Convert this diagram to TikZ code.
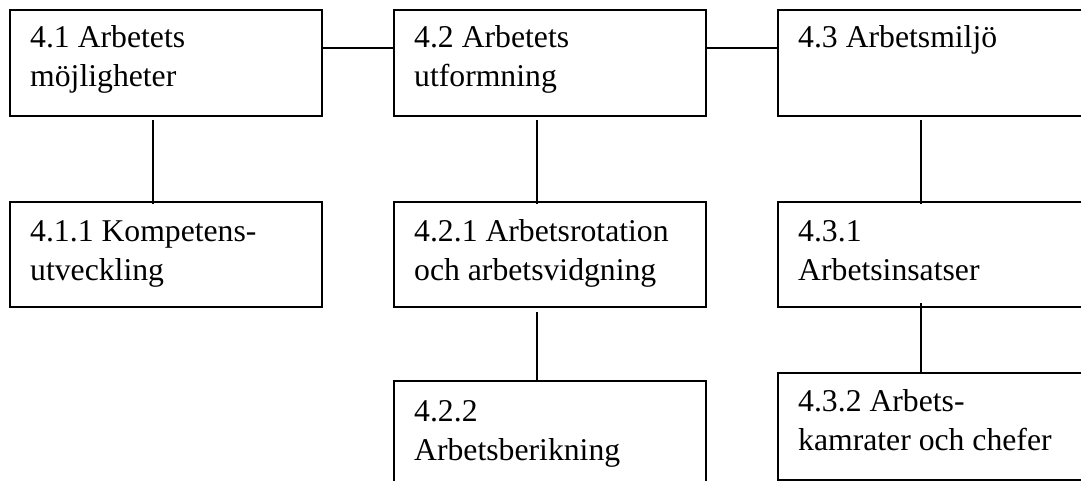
\documentclass[tikz,border=0pt]{standalone}
\usepackage{fontspec}
\setmainfont{Liberation Serif}
\begin{document}
\begin{tikzpicture}[x=1pt,y=-1pt,
  boxnode/.style={draw=black,line width=1.9pt,rectangle,inner sep=0pt,minimum width=312pt},
  txt/.style={anchor=base west,inner sep=0pt,align=left,font=\fontsize{31.7}{39}\selectfont},
  link/.style={draw=black,line width=1.9pt}]
\useasboundingbox (0,0) rectangle (1081,481);
% top row (y 10..116)
\node[boxnode,minimum height=106pt] (b41) at (166,63) {};
\node[boxnode,minimum height=106pt] (b42) at (550,63) {};
\node[boxnode,minimum height=106pt] (b43) at (934,63) {};
% second row (y 202..307)
\node[boxnode,minimum height=105pt] (b411) at (166,254.5) {};
\node[boxnode,minimum height=105pt] (b421) at (550,254.5) {};
\node[boxnode,minimum height=105pt] (b431) at (934,254.5) {};
% third row
\node[boxnode,minimum height=112pt] (b422) at (550,437) {};
\node[boxnode,minimum height=107pt] (b432) at (934,426.5) {};
% texts (anchor = baseline of last line)
\node[txt] (t41) at (30,87) {4.1 Arbetets\\möjligheter};
\node[txt] (t42) at (414,87) {4.2 Arbetets\\utformning};
\node[txt] (t43) at (798,48) {4.3 Arbetsmiljö};
\node[txt] (t411) at (30,280) {4.1.1 Kompetens-\\utveckling};
\node[txt] (t421) at (414,280) {4.2.1 Arbetsrotation\\och arbetsvidgning};
\node[txt] (t431) at (798,280) {4.3.1\\Arbetsinsatser};
\node[txt] (t422) at (414,460) {4.2.2\\Arbetsberikning};
\node[txt] (t432) at (798,450) {4.3.2 Arbets-\\kamrater och chefer};
% connectors
\draw[link] ([yshift=-39pt]b41.north east) -- ([yshift=-39pt]b42.north west);
\draw[link] ([yshift=-39pt]b42.north east) -- ([yshift=-39pt]b43.north west);
\draw[link] ([shift={(144pt,-3pt)}]b41.south west) -- ([shift={(144pt,-3pt)}]b411.north west);
\draw[link] ([shift={(144pt,-3pt)}]b42.south west) -- ([shift={(144pt,-3pt)}]b421.north west);
\draw[link] ([shift={(144pt,-3pt)}]b43.south west) -- ([shift={(144pt,-3pt)}]b431.north west);
\draw[link] ([shift={(144pt,-4pt)}]b421.south west) -- ([shift={(144pt,-2pt)}]b422.north west);
\draw[link] ([shift={(144pt,5pt)}]b431.south west) -- ([shift={(144pt,0pt)}]b432.north west);
\end{tikzpicture}
\end{document}
